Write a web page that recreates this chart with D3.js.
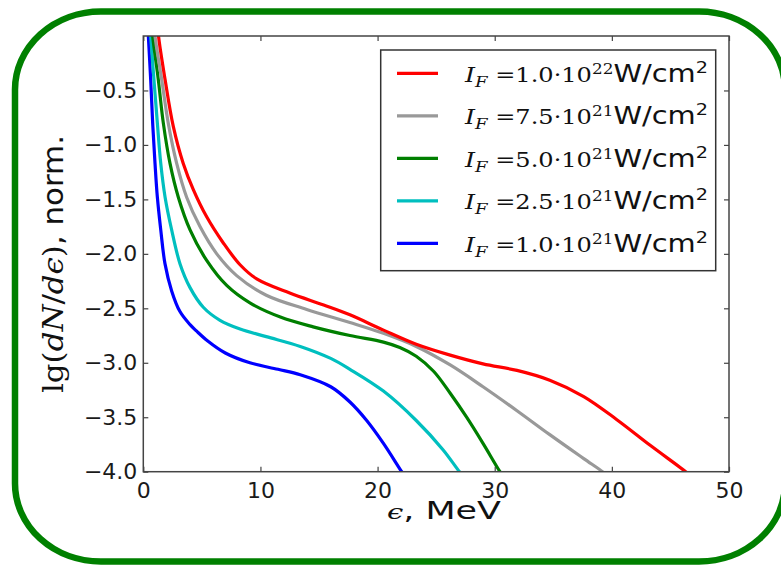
<!DOCTYPE html>
<html>
<head>
<meta charset="utf-8">
<script src="https://cdn.jsdelivr.net/npm/d3@7"></script>
<style>
  html, body { margin: 0; padding: 0; background: #fff; }
  svg { display: block; }
</style>
</head>
<body>
<svg id="chart" width="781" height="566"></svg>
<script>
// ---------------- data ----------------
const seriesLabels = ["1.0", "7.5", "5.0", "2.5", "1.0"];
const seriesExponents = ["22", "21", "21", "21", "21"];
const seriesColors = ["#ff0000", "#999999", "#007f00", "#00bfbf", "#0000ff"];

// I_F = 1.0e22
const energyRed = [1.2, 1.3, 1.86, 2.56, 3.41, 4.27, 5.41, 6.83, 8.26, 9.68, 12.5, 15.4, 17.64, 20.5, 23.3, 26.2, 29.0, 31.9, 34.7, 37.6, 40.4, 43.3, 46.3, 46.5];
const logRed    = [0.15, 0, -0.40, -0.83, -1.17, -1.41, -1.66, -1.90, -2.10, -2.23, -2.36, -2.47, -2.56, -2.70, -2.83, -2.93, -3.01, -3.07, -3.16, -3.31, -3.52, -3.76, -4.0, -4.02];
// I_F = 7.5e21
const energyGray = [0.9, 1.0, 1.57, 2.13, 2.85, 3.70, 4.84, 6.27, 7.97, 10.5, 13.95, 17.64, 20.5, 23.3, 26.2, 29.0, 31.9, 34.7, 37.6, 39.2, 39.4];
const logGray    = [0.15, 0, -0.40, -0.80, -1.17, -1.48, -1.75, -2.0, -2.20, -2.38, -2.51, -2.63, -2.73, -2.85, -3.02, -3.22, -3.44, -3.66, -3.88, -4.0, -4.02];
// I_F = 5.0e21
const energyGreen = [0.7, 0.8, 1.28, 1.71, 2.28, 2.99, 3.99, 5.41, 7.12, 9.1, 11.7, 14.5, 17.64, 20.5, 21.9, 23.3, 24.8, 26.2, 27.6, 29.0, 30.45, 30.6];
const logGreen    = [0.15, 0, -0.40, -0.80, -1.17, -1.48, -1.78, -2.06, -2.29, -2.45, -2.58, -2.67, -2.75, -2.81, -2.86, -2.94, -3.08, -3.28, -3.50, -3.74, -4.0, -4.02];
// I_F = 2.5e21
const energyCyan = [0.55, 0.63, 0.91, 1.2, 1.49, 1.86, 2.42, 3.13, 3.99, 5.12, 6.55, 8.26, 10.5, 13.4, 16.0, 17.64, 20.5, 23.3, 25.6, 27.0, 27.2];
const logCyan    = [0.15, 0, -0.40, -0.80, -1.17, -1.48, -1.78, -2.09, -2.31, -2.49, -2.61, -2.69, -2.76, -2.85, -2.96, -3.06, -3.26, -3.53, -3.80, -4.0, -4.02];
// I_F = 1.0e21
const energyBlue = [0.37, 0.43, 0.63, 0.8, 1.0, 1.2, 1.49, 1.85, 2.42, 3.13, 3.99, 4.56, 5.5, 7.0, 9.1, 11.5, 13.4, 16.0, 17.64, 19.07, 20.5, 22.06, 22.2];
const logBlue    = [0.15, 0, -0.40, -0.80, -1.17, -1.48, -1.78, -2.09, -2.34, -2.53, -2.65, -2.71, -2.80, -2.91, -3.00, -3.06, -3.11, -3.22, -3.36, -3.53, -3.74, -4.0, -4.02];

const xTicks = [0, 10, 20, 30, 40, 50];
const yTicks = [-4.0, -3.5, -3.0, -2.5, -2.0, -1.5, -1.0, -0.5];

// ---------------- layout ----------------
const svg = d3.select("#chart");
const W = 781, H = 566;
const plot = { left: 143.3, right: 729, top: 36, bottom: 471.7 };
const sansFont = "'DejaVu Sans', sans-serif";
const serifFont = "'DejaVu Serif', serif";

svg.append("rect").attr("width", W).attr("height", H).attr("fill", "#fff");

// green rounded frame
svg.append("rect")
  .attr("x", 15).attr("y", 11.5)
  .attr("width", 770).attr("height", 550)
  .attr("rx", 86).attr("ry", 78)
  .attr("fill", "none").attr("stroke", "#008000").attr("stroke-width", 6.5);

const x = d3.scaleLinear().domain([0, 50]).range([plot.left, plot.right]);
const y = d3.scaleLinear().domain([-4, 0]).range([plot.bottom, plot.top]);

svg.append("clipPath").attr("id", "plotclip")
  .append("rect")
  .attr("x", plot.left).attr("y", plot.top)
  .attr("width", plot.right - plot.left).attr("height", plot.bottom - plot.top);

// curves
const series = [
  { xs: energyRed, ys: logRed },
  { xs: energyGray, ys: logGray },
  { xs: energyGreen, ys: logGreen },
  { xs: energyCyan, ys: logCyan },
  { xs: energyBlue, ys: logBlue }
];
const line = d3.line()
  .x(d => x(d[0])).y(d => y(d[1]))
  .curve(d3.curveCatmullRom.alpha(0.5));

const curves = svg.append("g").attr("clip-path", "url(#plotclip)");
series.slice().reverse().forEach((s, ri) => {
  const i = series.length - 1 - ri;
  curves.append("path")
    .datum(d3.zip(s.xs, s.ys))
    .attr("d", line)
    .attr("fill", "none")
    .attr("stroke", seriesColors[i])
    .attr("stroke-width", 3.2)
    .attr("stroke-linejoin", "round");
});

// axes (ticks point inward, on all four sides)
const axisColor = "#444";
const tickLen = 5;
function styleAxis(g) {
  g.select(".domain").remove();
  g.selectAll(".tick line").attr("stroke", axisColor).attr("stroke-width", 1.2);
  g.selectAll(".tick text")
    .attr("fill", "#1a1a1a")
    .style("font-family", sansFont)
    .style("font-size", "22px");
}
svg.append("g")
  .attr("transform", `translate(0,${plot.bottom})`)
  .call(d3.axisBottom(x).tickValues(xTicks).tickSize(-tickLen).tickPadding(11).tickFormat(d3.format("d")))
  .call(styleAxis);
svg.append("g")
  .attr("transform", `translate(0,${plot.top})`)
  .call(d3.axisTop(x).tickValues(xTicks).tickSize(-tickLen).tickFormat(""))
  .call(styleAxis);
svg.append("g")
  .attr("transform", `translate(${plot.left},0)`)
  .call(d3.axisLeft(y).tickValues(yTicks).tickSize(-tickLen).tickPadding(6)
        .tickFormat(d => d3.format(".1f")(d).replace("-", "\u2212")))
  .call(styleAxis);
svg.append("g")
  .attr("transform", `translate(${plot.right},0)`)
  .call(d3.axisRight(y).tickValues(yTicks).tickSize(-tickLen).tickFormat(""))
  .call(styleAxis);

// frame
svg.append("rect")
  .attr("x", plot.left).attr("y", plot.top)
  .attr("width", plot.right - plot.left).attr("height", plot.bottom - plot.top)
  .attr("fill", "none").attr("stroke", axisColor).attr("stroke-width", 1.5);

// x label
const xl = svg.append("text")
  .attr("x", 387).attr("y", 519)
  .attr("fill", "#111")
  .attr("textLength", 114).attr("lengthAdjust", "spacingAndGlyphs")
  .style("font-size", "24px");
xl.append("tspan").style("font-family", serifFont).style("font-style", "italic").style("font-size", "20px").text("\u03f5");
xl.append("tspan").style("font-family", sansFont).text(", MeV");

// y label (rotated)
const yl = svg.append("text")
  .attr("transform", "translate(63,393) scale(1.3,1) rotate(-90)")
  .attr("fill", "#111")
  .attr("textLength", 258).attr("lengthAdjust", "spacingAndGlyphs")
  .style("font-size", "22px");
yl.append("tspan").style("font-family", serifFont).text("lg(");
yl.append("tspan").style("font-family", serifFont).style("font-style", "italic").text("dN");
yl.append("tspan").style("font-family", serifFont).text("/");
yl.append("tspan").style("font-family", serifFont).style("font-style", "italic").text("d\u03f5");
yl.append("tspan").style("font-family", serifFont).text(")");
yl.append("tspan").style("font-family", sansFont).text(", norm.");

// legend
const legend = svg.append("g");
legend.append("rect")
  .attr("x", 380.7).attr("y", 50)
  .attr("width", 335).attr("height", 220.7)
  .attr("fill", "#fff").attr("stroke", "#333").attr("stroke-width", 1.5);
const rowY0 = 73.3, rowStep = 42.5;
seriesLabels.forEach((lab, i) => {
  const ry = rowY0 + i * rowStep;
  legend.append("line")
    .attr("x1", 397).attr("x2", 438).attr("y1", ry).attr("y2", ry)
    .attr("stroke", seriesColors[i]).attr("stroke-width", 3.2);
  const t = legend.append("text")
    .attr("x", 465).attr("y", ry + 8.5)
    .attr("fill", "#111")
    .attr("textLength", 243).attr("lengthAdjust", "spacingAndGlyphs")
    .style("font-size", "20px");
  t.append("tspan").style("font-family", serifFont).style("font-style", "italic").style("font-size", "21px").text("I");
  t.append("tspan").style("font-family", serifFont).style("font-style", "italic")
    .style("font-size", "15px").attr("dy", 5).text("F");
  t.append("tspan").style("font-family", serifFont).attr("dy", -5).text(" =" + lab + "\u00b710");
  t.append("tspan").style("font-family", serifFont).style("font-size", "14px").attr("dy", -8).text(seriesExponents[i]);
  t.append("tspan").style("font-family", sansFont).style("font-size", "24px").attr("dy", 8).text("W/cm");
  t.append("tspan").style("font-family", sansFont).style("font-size", "16px").attr("dy", -9).text("2");
});
</script>
</body>
</html>
